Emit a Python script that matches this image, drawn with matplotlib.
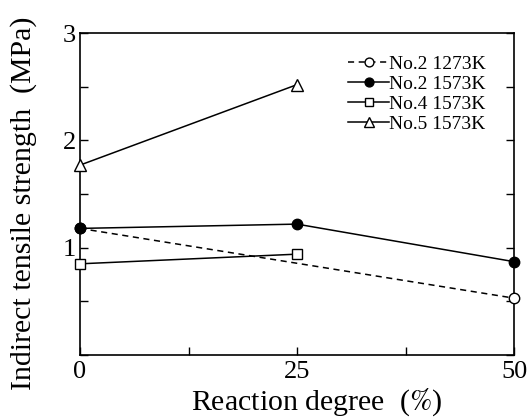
import matplotlib
matplotlib.use("Agg")
import matplotlib.pyplot as plt
from matplotlib.ticker import MultipleLocator, FuncFormatter

plt.rcParams['font.family'] = ['Liberation Serif', 'DejaVu Serif']
plt.rcParams['mathtext.fontset'] = 'stix'

x_full = [0, 50]
no2_1273 = [1.18, 0.53]
x3 = [0, 25, 50]
no2_1573 = [1.18, 1.22, 0.87]
x2 = [0, 25]
no4_1573 = [0.85, 0.94]
no5_1573 = [1.77, 2.52]
labels = ["No.2 1273K", "No.2 1573K", "No.4 1573K", "No.5 1573K"]

fig = plt.figure(figsize=(5.31, 4.18), dpi=100)
ax = fig.add_axes([0.1507, 0.1507, 0.8173, 0.770])

ax.plot(x_full, no2_1273, '--o', color='black', mfc='white', mec='black', ms=7.5, lw=1.1, dashes=(4, 3), label=labels[0], clip_on=False, zorder=3)
ax.plot(x3, no2_1573, '-o', color='black', mfc='black', ms=7.5, lw=1.1, label=labels[1], clip_on=False, zorder=3)
ax.plot(x2, no4_1573, '-s', color='black', mfc='white', ms=7.5, lw=1.1, label=labels[2], clip_on=False, zorder=3)
ax.plot(x2, no5_1573, '-^', color='black', mfc='white', ms=8, lw=1.1, label=labels[3], clip_on=False, zorder=3)

ax.set_xlim(0, 50)
ax.set_ylim(0, 3)
ax.xaxis.set_major_locator(MultipleLocator(25))
ax.xaxis.set_minor_locator(MultipleLocator(12.5))
ax.yaxis.set_major_locator(MultipleLocator(1))
ax.yaxis.set_minor_locator(MultipleLocator(0.5))
ax.yaxis.set_major_formatter(FuncFormatter(lambda v, p: '' if abs(v) < 1e-9 else f"{v:g}"))
ax.tick_params(which='both', direction='in', labelsize=19, right=True, top=False, width=1.0)
ax.tick_params(which='major', length=6)
ax.tick_params(which='minor', length=6)
ax.tick_params(axis='x', pad=4)
ax.tick_params(axis='y', pad=3)
for s in ax.spines.values():
    s.set_linewidth(1.2)

ax.set_xlabel(r"Reaction degree  ($\%$)", fontsize=21.5)
ax.set_ylabel("Indirect tensile strength  (MPa)", fontsize=21.5)
ax.xaxis.set_label_coords(0.544, -0.098)
ax.yaxis.set_label_coords(-0.10, 0.47)

leg = ax.legend(loc='upper right', bbox_to_anchor=(0.935, 0.93), frameon=False, fontsize=14,
                handlelength=2.1, handletextpad=0.0, labelspacing=0.12, borderaxespad=0.0,
                borderpad=0.0, markerscale=0.85)

fig.savefig("out.png", dpi=100)
